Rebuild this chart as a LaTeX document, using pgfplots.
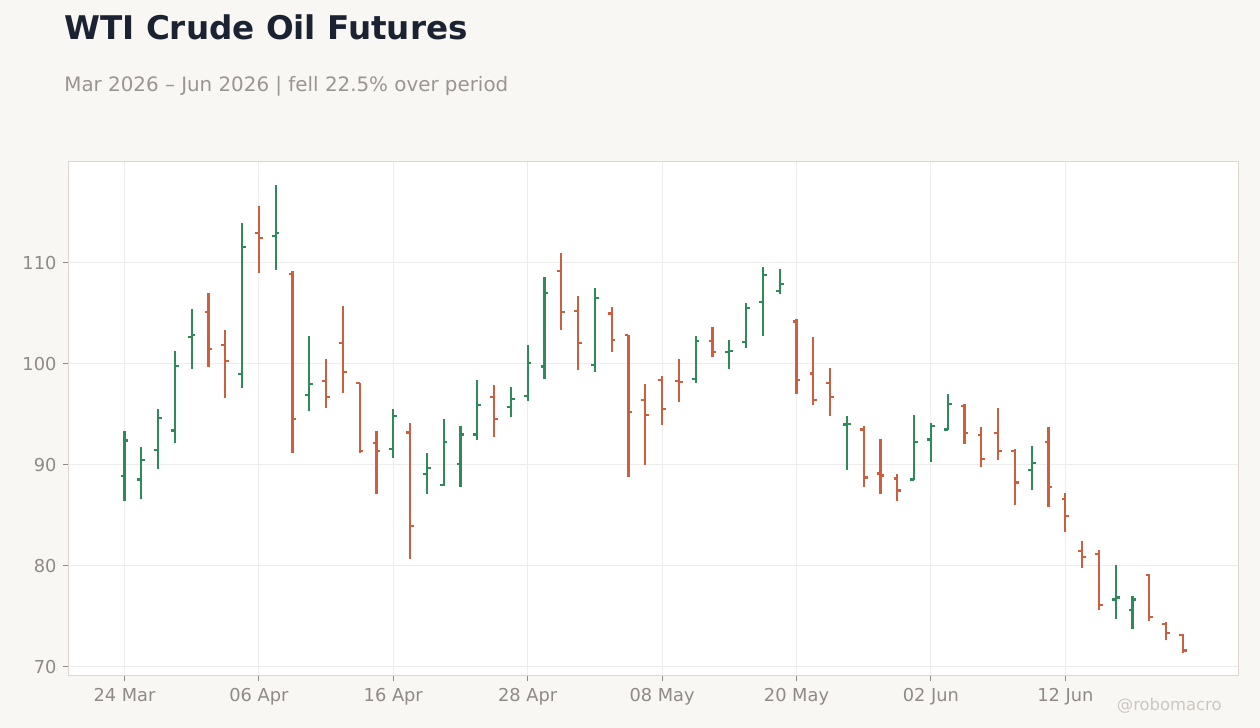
\documentclass[border=0pt]{standalone}
\usepackage{fontspec}
\setmainfont{DejaVu Sans}
\usepackage{pgfplots}
\usepackage{pgfplotstable}
\pgfplotsset{compat=1.18}

\definecolor{bgc}{HTML}{F9F7F4}
\definecolor{titlec}{HTML}{1B2333}
\definecolor{subc}{HTML}{9A9591}
\definecolor{tickc}{HTML}{8F8A86}
\definecolor{framec}{HTML}{DDD6CF}
\definecolor{gridc}{HTML}{EFEDEB}
\definecolor{upc}{HTML}{2E8B57}
\definecolor{downc}{HTML}{CC5F3F}
\definecolor{markc}{HTML}{CBC7C2}

% open tick to the left, close tick to the right
\pgfdeclareplotmark{ohlcopen}{%
  \pgfpathmoveto{\pgfqpoint{-\pgfplotmarksize}{0pt}}%
  \pgfpathlineto{\pgfqpoint{0pt}{0pt}}%
  \pgfusepathqstroke}
\pgfdeclareplotmark{ohlcclose}{%
  \pgfpathmoveto{\pgfqpoint{0pt}{0pt}}%
  \pgfpathlineto{\pgfqpoint{\pgfplotmarksize}{0pt}}%
  \pgfusepathqstroke}

% trading day index, open, high, low, close
\pgfplotstableread{
i  o      h      l      c
0  88.90  93.40  86.40  92.40
1  88.55  91.80  86.60  90.50
2  91.45  95.50  89.60  94.60
3  93.40  101.30 92.15  99.80
4  102.70 105.40 99.50  102.90
7  99.00  114.00 97.60  111.60
9  112.70 117.70 109.30 113.00
11 96.90  102.80 95.30  98.00
16 91.55  95.50  90.70  94.80
18 89.10  91.20  87.10  89.70
19 88.00  94.50  87.90  92.25
20 90.05  93.80  87.80  93.00
21 93.00  98.45  92.45  95.90
23 95.70  97.75  94.70  96.50
24 96.80  101.90 96.30  100.05
25 99.75  108.65 98.50  107.00
28 99.85  107.55 99.20  106.50
34 98.50  102.80 98.10  102.25
36 101.15 102.40 99.45  101.25
37 102.15 106.05 101.55 105.50
38 106.10 109.55 102.75 108.80
39 107.20 109.35 106.90 107.90
43 94.00  94.80  89.45  94.05
47 88.55  94.90  88.50  92.25
48 92.50  94.10  90.25  93.85
49 93.50  97.05  93.45  96.05
54 89.45  91.90  87.50  90.15
59 76.65  80.10  74.70  76.85
60 75.60  77.05  73.70  76.65
}\up

\pgfplotstableread{
i  o      h      l      c
5  105.10 107.00 99.70  101.45
6  101.85 103.40 96.60  100.25
8  113.00 115.60 109.00 112.50
10 108.90 109.20 91.20  94.50
12 98.30  100.50 95.60  96.70
13 102.05 105.70 97.10  99.20
14 98.10  98.10  91.20  91.35
15 92.15  93.40  87.10  91.35
17 93.20  94.10  80.65  83.90
22 96.70  97.95  92.75  94.50
26 109.20 111.00 103.40 105.10
27 105.20 106.70 99.40  102.05
29 105.00 105.60 101.15 102.35
30 102.85 102.85 88.80  95.20
31 96.40  98.05  89.95  94.90
32 98.40  98.75  93.90  95.50
33 98.30  100.45 96.20  98.20
35 102.25 103.70 100.65 101.15
40 104.20 104.45 97.00  98.40
41 99.05  102.70 95.90  96.40
42 98.10  99.55  94.80  96.70
44 93.50  93.80  87.85  88.75
45 89.15  92.60  87.15  88.95
46 88.65  89.05  86.45  87.45
50 95.80  96.00  92.05  93.15
51 92.95  93.70  89.75  90.60
52 93.15  95.60  90.45  91.40
53 91.35  91.60  86.05  88.25
55 92.30  93.70  85.80  87.80
56 86.65  87.25  83.30  84.95
57 81.50  82.50  79.75  80.85
58 81.20  81.60  75.60  76.15
61 79.05  79.15  74.50  74.90
62 74.20  74.45  72.60  73.30
63 73.15  73.20  71.40  71.60
}\down

\begin{document}
\begin{tikzpicture}
\fill[bgc] (0,0) rectangle (630pt,364pt);

\node[anchor=base west, inner sep=0pt, text=titlec, font=\fontsize{16.3}{19}\selectfont\bfseries]
  at (32pt,344pt) {WTI Crude Oil Futures};
\node[anchor=base west, inner sep=0pt, text=subc, font=\fontsize{9.93}{12}\selectfont]
  at (32pt,318.2pt) {Mar 2026 – Jun 2026 | fell 22.5\% over period};

\begin{axis}[
    at={(34.35pt,26pt)}, anchor=south west,
    scale only axis,
    width=585pt, height=257pt,
    xmin=-3.32, xmax=66.32,
    ymin=69.08, ymax=120.0,
    axis background/.style={fill=white},
    axis line style={draw=framec, line width=0.5pt},
    grid=major,
    major grid style={draw=gridc, line width=0.5pt},
    xtick={0,8,16,24,32,40,48,56},
    xticklabels={24 Mar,06 Apr,16 Apr,28 Apr,08 May,20 May,02 Jun,12 Jun},
    ytick={70,80,90,100,110},
    xtick pos=bottom, ytick pos=left,
    tick align=outside,
    major tick length=2.6pt,
    tick style={draw=tickc, line width=0.5pt},
    ticklabel style={text=tickc, font=\fontsize{8.9}{10}\selectfont},
    /pgf/number format/assume math mode=true,
    clip=false,
]

% high-low ranges
\addplot[draw=none, mark=none, forget plot,
  error bars/.cd, y dir=plus, y explicit, error mark=none,
  error bar style={draw=upc, line width=1.1pt}]
  table[x=i, y=l, y error expr=\thisrow{h}-\thisrow{l}] {\up};
\addplot[draw=none, mark=none, forget plot,
  error bars/.cd, y dir=plus, y explicit, error mark=none,
  error bar style={draw=downc, line width=1.1pt}]
  table[x=i, y=l, y error expr=\thisrow{h}-\thisrow{l}] {\down};

% open and close ticks
\addplot[only marks, mark=ohlcopen, mark size=1.9pt, mark options={draw=upc, line width=1.1pt}]
  table[x=i, y=o] {\up};
\addplot[only marks, mark=ohlcclose, mark size=1.9pt, mark options={draw=upc, line width=1.1pt}]
  table[x=i, y=c] {\up};
\addplot[only marks, mark=ohlcopen, mark size=1.9pt, mark options={draw=downc, line width=1.1pt}]
  table[x=i, y=o] {\down};
\addplot[only marks, mark=ohlcclose, mark size=1.9pt, mark options={draw=downc, line width=1.1pt}]
  table[x=i, y=c] {\down};

\end{axis}

\node[anchor=base east, inner sep=0pt, text=markc, font=\fontsize{8.2}{10}\selectfont]
  at (611pt,8.7pt) {@robomacro};

\pgfresetboundingbox
\useasboundingbox (0,0) rectangle (630pt,364pt);
\end{tikzpicture}
\end{document}
